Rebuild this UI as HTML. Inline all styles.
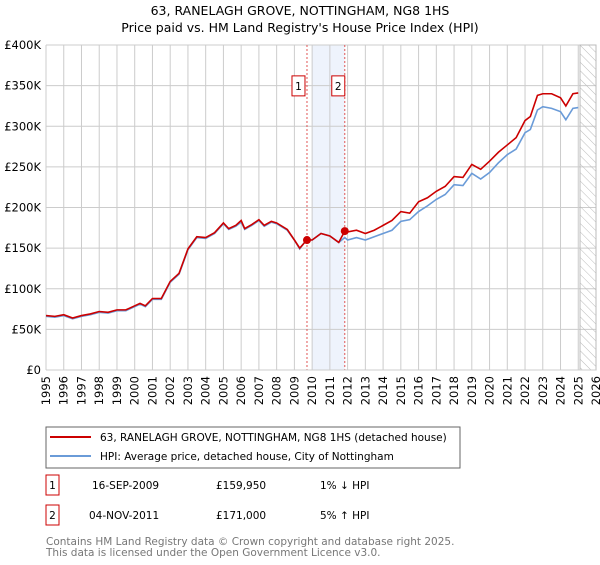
<!DOCTYPE html>
<html><head><meta charset="utf-8"><style>
body{margin:0;background:#fff;font-family:"Liberation Sans","DejaVu Sans",sans-serif}
svg text{font-family:"DejaVu Sans","Liberation Sans",sans-serif}
</style></head><body>
<svg id="c" width="600" height="560" xmlns="http://www.w3.org/2000/svg">
<defs><pattern id="hatch" width="6" height="6" patternUnits="userSpaceOnUse" patternTransform="rotate(-45)"><line x1="0" y1="0" x2="0" y2="6" stroke="#bbb" stroke-width="1"/></pattern></defs>
<text x="300" y="15" text-anchor="middle" font-size="12.5">63, RANELAGH GROVE, NOTTINGHAM, NG8 1HS</text>
<text x="300" y="32" text-anchor="middle" font-size="12.5">Price paid vs. HM Land Registry's House Price Index (HPI)</text>
<g id="grid"></g><g id="marks"></g><g id="axes"></g>
<rect x="46" y="427" width="414" height="41" fill="#fff" stroke="#666"/>
<line x1="50" y1="437" x2="91" y2="437" stroke="#cc0000" stroke-width="2"/>
<text x="100" y="441" font-size="10.5">63, RANELAGH GROVE, NOTTINGHAM, NG8 1HS (detached house)</text>
<line x1="50" y1="456" x2="91" y2="456" stroke="#6a9bd8" stroke-width="2"/>
<text x="100" y="460" font-size="10.5">HPI: Average price, detached house, City of Nottingham</text>
<rect x="46" y="475" width="13" height="20" fill="#fff" stroke="#cc0000"/>
<text x="52.5" y="489" text-anchor="middle" font-size="10.5">1</text>
<text x="92" y="489" font-size="10.5">16-SEP-2009</text>
<text x="216" y="489" font-size="10.5">£159,950</text>
<text x="320" y="489" font-size="10.5">1% ↓ HPI</text>
<rect x="46" y="505" width="13" height="20" fill="#fff" stroke="#cc0000"/>
<text x="52.5" y="519" text-anchor="middle" font-size="10.5">2</text>
<text x="89" y="519" font-size="10.5">04-NOV-2011</text>
<text x="216" y="519" font-size="10.5">£171,000</text>
<text x="320" y="519" font-size="10.5">5% ↑ HPI</text>
<text x="46" y="545" font-size="10.5" fill="#777">Contains HM Land Registry data © Crown copyright and database right 2025.</text>
<text x="46" y="556" font-size="10.5" fill="#777">This data is licensed under the Open Government Licence v3.0.</text>
</svg>
<script>
const years=[1995,1995.5,1996,1996.5,1997,1997.5,1998,1998.5,1999,1999.5,2000,2000.3,2000.6,2001,2001.5,2002,2002.5,2003,2003.5,2004,2004.5,2005,2005.3,2005.7,2006,2006.2,2006.6,2007,2007.3,2007.7,2008,2008.6,2009,2009.3,2009.7,2010,2010.5,2011,2011.5,2011.84,2012,2012.5,2013,2013.5,2014,2014.5,2015,2015.5,2016,2016.5,2017,2017.5,2018,2018.5,2019,2019.5,2020,2020.5,2021,2021.5,2022,2022.3,2022.7,2023,2023.5,2024,2024.3,2024.7,2025];
const hpi=[66,65,67,63,66,68,71,70,73,73,78,81,78,87,87,108,118,148,163,162,168,180,173,177,182,173,178,184,177,182,180,172,160,149,161,160,168,165,157,163,160,163,160,164,168,172,183,185,195,202,210,216,228,227,242,235,243,255,265,272,292,296,320,324,322,318,308,322,323];
const price=[67,66,68,64,67,69,72,71,74,74,79,82,79,88,88,109,119,149,164,163,169,181,174,178,184,174,179,185,178,183,181,173,160,150,160,160,168,165,157,171,170,172,168,172,178,184,195,193,207,212,220,226,238,237,253,247,257,268,277,286,307,312,338,340,340,335,325,340,341];
const yTicks=[0,50,100,150,200,250,300,350,400];
const xTicks=[1995,1996,1997,1998,1999,2000,2001,2002,2003,2004,2005,2006,2007,2008,2009,2010,2011,2012,2013,2014,2015,2016,2017,2018,2019,2020,2021,2022,2023,2024,2025,2026];
const sales=[{n:'1',t:2009.71,v:159.95},{n:'2',t:2011.84,v:171}];
const X=t=>46+(t-1995)*(596-46)/31, Y=v=>370-v*325/400;
const NS='http://www.w3.org/2000/svg';
function mk(p,tag,a){const e=document.createElementNS(NS,tag);for(const k in a)e.setAttribute(k,a[k]);p.appendChild(e);return e;}
const grid=document.getElementById('grid'),marks=document.getElementById('marks'),axes=document.getElementById('axes');
let b=mk(grid,'rect',{x:X(2010),y:Y(400),width:X(2011.84)-X(2010),height:Y(0)-Y(400),fill:'#eef3fc'});


for(const v of yTicks){mk(grid,'line',{x1:X(1995),x2:X(2026),y1:Y(v),y2:Y(v),stroke:'#ccc'});
const t=mk(axes,'text',{x:41,y:Y(v)+4,'text-anchor':'end','font-size':'11.5'});t.textContent=v===0?'£0':'£'+v+'K';

}
for(const y of xTicks){mk(grid,'line',{x1:X(y),x2:X(y),y1:Y(0),y2:Y(400),stroke:'#ccc'});
const t=mk(axes,'text',{x:0,y:0,transform:`translate(${X(y)+4},${Y(0)+6}) rotate(-90)`,'text-anchor':'end','font-size':'11.5'});t.textContent=y;

}
let h=mk(grid,'rect',{x:X(2025.1),y:Y(400),width:X(2026)-X(2025.1),height:Y(0)-Y(400),fill:'url(#hatch)',stroke:'#bbb'});


for(const s of sales){mk(grid,'line',{x1:X(s.t),x2:X(s.t),y1:Y(400),y2:Y(0),stroke:'#e05555','stroke-dasharray':'2,2'});}
function line(vals,col,name){const l=mk(marks,'polyline',{points:years.map((t,i)=>X(t)+','+Y(vals[i])).join(' '),fill:'none',stroke:col,'stroke-width':1.6});

}
line(hpi,'#6a9bd8','hpi-line');line(price,'#cc0000','price-paid-line');
for(const s of sales){const c=mk(marks,'circle',{cx:X(s.t),cy:Y(s.v),r:4,fill:'#cc0000'});


const r=mk(marks,'rect',{x:X(s.t)-21+ (s.n==='1'?6:-6)+ (s.n==='1'?0:0),y:Y(362),width:13,height:20,fill:'#fff',stroke:'#cc0000'});
r.setAttribute('x',s.n==='1'?X(s.t)-15:X(s.t)-13);


const t=mk(marks,'text',{x:+r.getAttribute('x')+6.5,y:Y(362)+14,'text-anchor':'middle','font-size':'10.5'});t.textContent=s.n;}
mk(axes,'line',{x1:X(1995),x2:X(2026),y1:Y(0),y2:Y(0),stroke:'#ccc'});
</script>
</body></html>
